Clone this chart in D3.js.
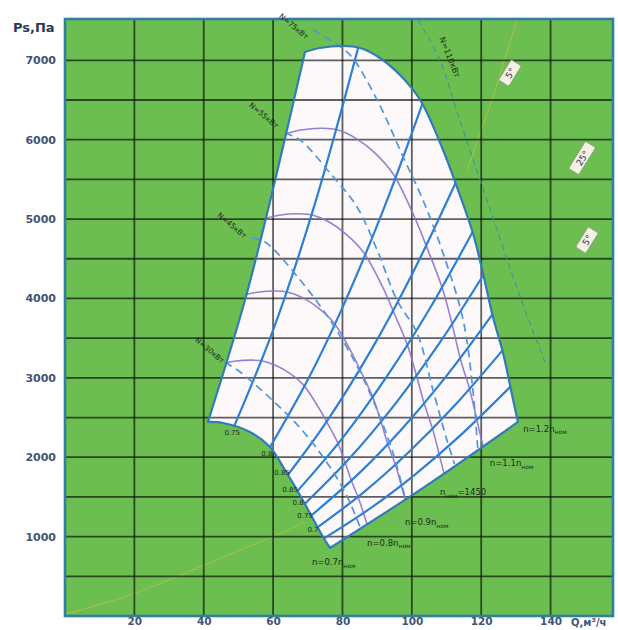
<!DOCTYPE html>
<html><head><meta charset="utf-8">
<script src="https://cdn.jsdelivr.net/npm/d3@7"></script>
<style>
html,body{margin:0;padding:0;background:#fff;}
svg{display:block;}
text{font-family:"DejaVu Sans",Arial,sans-serif;}
</style></head><body>
<svg id="chart" width="618" height="630"></svg>
<script>
// ---------- axes ----------
const qTicks = [20, 40, 60, 80, 100, 120, 140];
const pTicks = [1000, 2000, 3000, 4000, 5000, 6000, 7000];
const gridQ = [20, 40, 60, 80, 100, 120, 140];
const gridP = [500, 1000, 1500, 2000, 2500, 3000, 3500, 4000, 4500, 5000, 5500, 6000, 6500, 7000];
const qTitle = "Q,м³/ч";
const pTitle = "Ps,Па";

// ---------- working zone boundaries (Q, Ps) ----------
const leftEdge = [[41.2, 2444], [51.9, 3980], [60.6, 5492], [69.2, 7104]];
const curveMax = [[69.2, 7104], [73.5, 7155], [80.2, 7180], [85.1, 7155], [90.8, 7029], [96.6, 6814],
  [102.4, 6500], [109.0, 5870], [113.0, 5404], [117.6, 4824], [120.5, 4320], [123.4, 3766],
  [126.3, 3313], [128.9, 2784], [130.6, 2444]];
const rightEdge = [[130.6, 2444], [103.8, 1630], [76.4, 857]];
const curveMin = [[76.4, 857], [74.4, 995], [70.6, 1297], [66.9, 1587], [62.9, 1877], [59.1, 2129],
  [53.3, 2318], [45.6, 2431], [41.2, 2444]];

// ---------- speed characteristics inside the zone ----------
const speed1 = [[64.0, 6078], [68.0, 6122], [74.2, 6143], [78.7, 6122], [84.0, 6014], [89.4, 5830], [94.7, 5562],
  [100.8, 5023], [104.5, 4624], [108.8, 4128], [111.5, 3696], [114.1, 3222], [116.8, 2835], [119.2, 2382], [120.8, 2091]];
const speed2 = [[58.1, 5013], [61.7, 5049], [67.4, 5066], [71.5, 5049], [76.3, 4960], [81.1, 4808], [86.0, 4586],
  [91.6, 4142], [94.9, 3813], [98.8, 3404], [101.2, 3048], [103.7, 2657], [106.1, 2338], [108.3, 1964], [109.7, 1724]];
const speed3 = [[52.2, 4049], [55.5, 4078], [60.6, 4093], [64.3, 4078], [68.6, 4007], [72.9, 3884], [77.3, 3705],
  [82.3, 3346], [85.3, 3080], [88.8, 2750], [91.0, 2462], [93.2, 2147], [95.4, 1888], [97.3, 1587], [98.6, 1393]];
const speed4 = [[46.4, 3189], [49.2, 3212], [53.7, 3223], [57.0, 3212], [60.8, 3155], [64.7, 3059], [68.6, 2918],
  [73.0, 2635], [75.7, 2426], [78.8, 2166], [80.7, 1939], [82.7, 1691], [84.6, 1487], [86.4, 1250], [87.5, 1097]];
const speedCurves = [speed1, speed2, speed3, speed4];

// speed labels along the lower right edge
const speedPre = ["n=1.2n", "n=1.1n", "n", "n=0.9n", "n=0.8n", "n=0.7n"];
const speedPost = ["", "", "=1450", "", "", ""];
const speedAt = [[132.1, 2318], [122.5, 1889], [108.1, 1524], [98.0, 1146], [87.1, 882], [71.2, 642]];

// ---------- network (system) curves ----------
const sys1 = [[47, 2210], [60, 3600], [72, 5185], [86, 7400]];
const sys2 = [[57.5, 2005], [70, 2975], [80, 3885], [92, 5140], [104.5, 6630]];
const sys3 = [[63, 1705], [75, 2420], [88, 3330], [100, 4300], [113.5, 5540]];
const sys4 = [[65.5, 1500], [80, 2240], [93, 3030], [105, 3860], [118.5, 4915]];
const sys5 = [[67.5, 1345], [82, 1985], [95, 2660], [108, 3440], [121.5, 4355]];
const sys6 = [[69.5, 1210], [84, 1765], [97, 2350], [110, 3025], [124.5, 3875]];
const sys7 = [[71.5, 1075], [86, 1555], [99, 2060], [112, 2635], [127, 3390]];
const sys8 = [[73.5, 945], [88, 1355], [101, 1785], [114, 2275], [129.5, 2935]];
const sysCurves = [sys1, sys2, sys3, sys4, sys5, sys6, sys7, sys8];
const effText = ["0.75", "0.8", "0.85", "0.85", "0.8", "0.75", "0.7"];
const effAt = [[48.2, 2318], [58.2, 2053], [62.6, 1814], [64.9, 1600], [67.2, 1436], [69.2, 1272], [71.5, 1096]];

// ---------- power lines ----------
const power1 = [[71.5, 7381], [76.4, 7256], [82.2, 7066], [90.0, 6500], [97.5, 5782], [103.2, 5240], [109.0, 4572],
  [114.8, 3728], [117.6, 2847], [119.0, 2110]];
const power2 = [[63.4, 6084], [67.8, 5996], [76.4, 5580], [84.2, 5152], [90.0, 4610], [95.7, 3980], [101.5, 3564],
  [106.1, 2847], [110.1, 2217], [112.3, 1915]];
const power3 = [[53.9, 4761], [57.7, 4711], [67.8, 4232], [76.4, 3728], [83.6, 3199], [89.4, 2658], [94.3, 2091], [98.0, 1500]];
const power4 = [[46.1, 3199], [50.5, 3073], [59.1, 2746], [67.8, 2368], [75.0, 1965], [80.7, 1562], [85.1, 1120]];
const powerCurves = [power1, power2, power3, power4];
const powerText = ["N=75кВт", "N=55кВт", "N=45кВт", "N=30кВт"];
const powerAt = [[66.0, 7432], [57.4, 6311], [48.2, 4925], [41.8, 3351]];
const powerLimit = [[101.8, 7507], [108.1, 7003], [113.3, 6311], [118.2, 5681], [123.1, 5051], [127.7, 4459], [132.6, 3854], [138.4, 3199]];
const powerLimitText = "N=110кВт";
const powerLimitAt = [111.0, 7041];

// ---------- auxiliary lines and markers ----------
const aux1 = [[0.3, 25], [18.7, 265], [38.9, 617], [50.5, 831], [61.1, 1020], [69.2, 1184]];
const aux2 = [[130.3, 7507], [124.0, 6626], [115.9, 5618]];
const tagText = ["5°", "25°", "5°"];
const tagAt = [[128.3, 6840], [149.1, 5769], [150.5, 4736]];

// ---------- drawing ----------
const svg = d3.select("#chart");
const x = d3.scaleLinear().domain([0, 158]).range([65, 613]);
const y = d3.scaleLinear().domain([0, 7520]).range([616, 19]);
const [x0, x1] = x.range();
const [y0, y1] = y.range();

const smooth = d3.line().x(d => x(d[0])).y(d => y(d[1])).curve(d3.curveCatmullRom.alpha(0.5));
function joined(segs) {
  return segs.map((s, i) => { const p = smooth(s); return i ? "L" + p.slice(1) : p; }).join("") + "Z";
}
const zonePath = joined([leftEdge, curveMax, rightEdge, curveMin]);

const defs = svg.append("defs");
defs.append("clipPath").attr("id", "zone").append("path").attr("d", zonePath);
defs.append("clipPath").attr("id", "plot").append("rect")
  .attr("x", x0).attr("y", y1).attr("width", x1 - x0).attr("height", y0 - y1);

// background
svg.append("rect").attr("x", x0).attr("y", y1).attr("width", x1 - x0).attr("height", y0 - y1)
  .attr("fill", "#6dbe50");

const plot = svg.append("g").attr("clip-path", "url(#plot)");

// working zone fill
plot.append("path").attr("d", zonePath).attr("fill", "#fdf8fa");

// auxiliary thin lines
plot.selectAll("path.aux").data([aux1, aux2]).join("path").attr("class", "aux")
  .attr("d", smooth).attr("fill", "none").attr("stroke", "#e6c040").attr("stroke-width", 0.9).attr("opacity", 0.6);

// grid
plot.selectAll("line.gq").data(gridQ).join("line").attr("class", "gq")
  .attr("x1", d => x(d)).attr("x2", d => x(d)).attr("y1", y0).attr("y2", y1)
  .attr("stroke", "#000").attr("stroke-opacity", 0.62).attr("stroke-width", 1.8);
plot.selectAll("line.gp").data(gridP).join("line").attr("class", "gp")
  .attr("y1", d => y(d)).attr("y2", d => y(d)).attr("x1", x0).attr("x2", x1)
  .attr("stroke", "#000").attr("stroke-opacity", 0.62).attr("stroke-width", 1.8);

const inZone = plot.append("g").attr("clip-path", "url(#zone)");

// speed characteristics
inZone.selectAll("path.spd").data(speedCurves).join("path").attr("class", "spd")
  .attr("d", smooth).attr("fill", "none").attr("stroke", "#8a76cc").attr("stroke-width", 1.6).attr("opacity", 0.9);

// power lines
plot.selectAll("path.pw").data(powerCurves).join("path").attr("class", "pw")
  .attr("d", smooth).attr("fill", "none").attr("stroke", "#4f96dc").attr("stroke-width", 1.7)
  .attr("stroke-dasharray", "8,5");
plot.append("path").attr("d", smooth(powerLimit)).attr("fill", "none")
  .attr("stroke", "#3c9a96").attr("stroke-width", 1.2).attr("stroke-dasharray", "6,4");

// network curves
inZone.selectAll("path.sys").data(sysCurves).join("path").attr("class", "sys")
  .attr("d", smooth).attr("fill", "none").attr("stroke", "#2d7fd4").attr("stroke-width", 2.2);

// zone outline
plot.append("path").attr("d", zonePath).attr("fill", "none")
  .attr("stroke", "#2f7cbc").attr("stroke-width", 2.2).attr("stroke-linejoin", "round");

// frame
svg.append("rect").attr("x", x0).attr("y", y1).attr("width", x1 - x0).attr("height", y0 - y1)
  .attr("fill", "none").attr("stroke", "#2f7fa3").attr("stroke-width", 2.6);

// axes labels
const axL = svg.append("g").attr("transform", `translate(${x0},0)`)
  .call(d3.axisLeft(y).tickValues(pTicks).tickSize(0).tickPadding(9).tickFormat(d3.format("d")));
axL.select(".domain").remove();
axL.selectAll("text").attr("font-size", 11).attr("fill", "#3f5577").attr("font-weight", "bold")
  .attr("font-family", "Liberation Sans Narrow, DejaVu Sans");
const axB = svg.append("g").attr("transform", `translate(0,${y0})`)
  .call(d3.axisBottom(x).tickValues(qTicks).tickSize(0).tickPadding(2).tickFormat(d3.format("d")));
axB.select(".domain").remove();
axB.selectAll("text").attr("font-size", 10.5).attr("fill", "#3f5577").attr("font-weight", "bold")
  .attr("font-family", "Liberation Sans Narrow, DejaVu Sans");
svg.append("text").attr("x", x(151)).attr("y", 626).attr("text-anchor", "middle")
  .attr("font-size", 10).attr("fill", "#3f5577").attr("font-weight", "bold").text(qTitle);
svg.append("text").attr("x", 13).attr("y", 32).attr("font-size", 13).attr("font-weight", "bold")
  .attr("font-family", "Liberation Serif, DejaVu Serif").attr("fill", "#2c3a55").text(pTitle);

// efficiency labels
svg.selectAll("text.eff").data(effText).join("text").attr("class", "eff")
  .attr("x", (d, i) => x(effAt[i][0])).attr("y", (d, i) => y(effAt[i][1]) + 3)
  .attr("text-anchor", "middle").attr("font-size", 7).attr("fill", "#1f2a1f").text(d => d);

// speed labels
speedPre.forEach((pre, i) => {
  const t = svg.append("text").attr("x", x(speedAt[i][0])).attr("y", y(speedAt[i][1]))
    .attr("font-size", 8.5).attr("fill", "#1c2a1c");
  t.append("tspan").text(pre);
  t.append("tspan").attr("dy", 2.5).attr("font-size", 6).text("ном");
  if (speedPost[i]) t.append("tspan").attr("dy", -2.5).text(speedPost[i]);
});

// power labels
svg.selectAll("text.pwl").data(powerText).join("text").attr("class", "pwl")
  .attr("transform", (d, i) => `translate(${x(powerAt[i][0])},${y(powerAt[i][1])}) rotate(40)`)
  .attr("text-anchor", "middle").attr("dy", 3).attr("font-size", 7.5).attr("fill", "#1c2a1c").text(d => d);
svg.append("text")
  .attr("transform", `translate(${x(powerLimitAt[0])},${y(powerLimitAt[1])}) rotate(68)`)
  .attr("text-anchor", "middle").attr("dy", 3).attr("font-size", 8).attr("fill", "#1c2a1c").text(powerLimitText);

// boxed markers
const tags = svg.selectAll("g.tag").data(tagText).join("g").attr("class", "tag")
  .attr("transform", (d, i) => `translate(${x(tagAt[i][0])},${y(tagAt[i][1])}) rotate(-58)`);
tags.append("rect").attr("x", d => -(d.length * 4 + 4)).attr("y", -6)
  .attr("width", d => d.length * 8 + 8).attr("height", 12).attr("rx", 1.5)
  .attr("fill", "#f4f1e4").attr("stroke", "#8a9a80").attr("stroke-width", 0.8);
tags.append("text").attr("text-anchor", "middle").attr("dy", 3.5).attr("font-size", 9)
  .attr("fill", "#2a3350").text(d => d);
</script>
</body></html>
